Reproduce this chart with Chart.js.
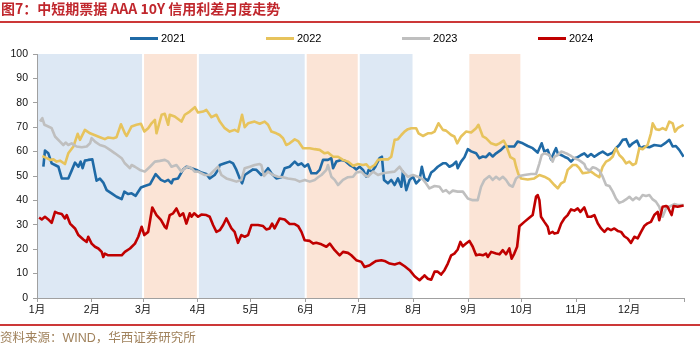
<!DOCTYPE html>
<html>
<head>
<meta charset="utf-8">
<script src="https://cdn.jsdelivr.net/npm/chart.js@4.4.0/dist/chart.umd.min.js"></script>
<style>
  body { margin: 0; background: #fff; }
  #wrap { position: relative; width: 700px; height: 346px; overflow: hidden; font-family: "Liberation Sans", "Noto Sans CJK SC", sans-serif; }
  canvas { position: absolute; left: 0; top: 0; }
  #title { position: absolute; left: 1px; top: 0; font: bold 14px "Noto Sans CJK SC", sans-serif; line-height: 16px; color: #c0272d; white-space: nowrap; }
  #topline { position: absolute; left: 0; top: 21px; width: 700px; height: 2px; background: #cc3838; }
  #bottomline { position: absolute; left: 0; top: 324px; width: 700px; height: 2px; background: #cc3838; }
  #source { position: absolute; left: 0; top: 331px; font-size: 12.5px; line-height: 14px; color: #a0825c; white-space: nowrap; }
  .item { position: absolute; top: 31px; height: 14px; display: flex; align-items: center; font-size: 11px; color: #000; white-space: nowrap; }
  .item .swatch { display: inline-block; width: 28px; height: 3px; margin-right: 3px; }
</style>
</head>
<body>
<div id="wrap">
  <canvas id="myChart" width="700" height="346"></canvas>
  <div id="title">图7：中短期票据 AAA 10Y 信用利差月度走势</div>
  <div id="topline"></div>
  <div id="legend"></div>
  <div id="bottomline"></div>
  <div id="source">资料来源：WIND，华西证券研究所</div>
</div>
<script>
// x = day of year (leap year), y = spread in bp
const monthStarts = [0, 31, 60, 91, 121, 152, 182, 213, 244, 274, 305, 335, 366];
const monthLabels = ["1月", "2月", "3月", "4月", "5月", "6月", "7月", "8月", "9月", "10月", "11月", "12月", ""];

const seriesNames = ["2021", "2022", "2023", "2024"];
const seriesColors = ["#1f6aa6", "#e7c35c", "#bfbfbf", "#c00000"];

// shaded periods
const bandFrom = [0, 60, 91, 152, 182, 244];
const bandTo = [60, 91, 152, 182, 213, 274];
const bandFill = ["#dde8f4", "#fbe4d6", "#dde8f4", "#fbe4d6", "#dde8f4", "#fbe4d6"];

const pts2021 = [
  [3.6,53.8],[4.5,60.4],[6.4,59.3],[8.3,55.2],[10.2,54.5],[12.1,53.8],[14.0,49.0],[17.7,49.0],[19.6,52.2],[21.5,55.5],
  [23.4,53.8],[24.7,55.9],[25.8,53.2],[27.1,56.3],[29.0,56.6],[31.3,56.8],[33.7,48.1],[35.6,48.9],[37.5,47.3],[39.4,44.2],
  [42.2,42.9],[45.0,41.5],[47.9,40.5],[49.4,43.6],[51.6,42.6],[53.5,42.9],[55.8,41.9],[58.8,45.3],[61.0,45.9],[63.9,46.6],
  [67.1,50.8],[70.1,48.4],[72.3,47.7],[74.2,48.4],[76.1,47.0],[77.0,48.6],[79.8,49.0],[82.7,52.7],[84.5,53.8],[87.4,53.2],
  [90.2,52.5],[93.0,51.4],[95.8,50.8],[97.7,49.0],[100.5,50.4],[102.4,52.5],[103.4,54.5],[106.2,55.2],[109.0,55.9],[110.9,55.2],
  [112.8,52.5],[114.7,49.0],[116.0,47.0],[117.5,50.4],[120.3,51.8],[122.2,52.7],[124.1,52.5],[126.9,50.4],[128.8,51.4],[130.7,53.2],
  [132.6,51.1],[135.4,49.0],[138.2,49.5],[140.1,53.2],[142.9,53.8],[145.8,55.9],[147.7,54.5],[149.6,55.2],[151.4,53.8],[153.3,54.8],
  [155.2,51.1],[158.0,51.1],[159.9,52.5],[161.8,56.6],[164.6,56.6],[166.5,57.3],[167.5,53.2],[169.3,55.9],[172.2,56.6],[174.0,56.3],
  [176.9,54.5],[178.8,53.8],[180.6,52.7],[182.5,53.8],[184.4,52.5],[186.3,49.7],[187.6,52.5],[189.5,51.8],[191.4,53.8],[193.8,57.3],
  [195.1,57.9],[196.3,48.4],[198.5,47.0],[200.4,48.4],[202.3,46.3],[204.2,49.0],[206.1,45.6],[207.0,51.8],[208.9,44.2],[210.8,48.4],
  [212.7,49.7],[214.5,47.0],[216.4,48.4],[217.7,53.8],[219.2,49.0],[221.1,48.1],[223.0,51.4],[224.9,52.5],[226.7,53.8],[229.6,55.2],
  [231.4,55.2],[233.3,53.8],[235.2,54.5],[237.1,55.9],[238.0,53.2],[239.9,55.9],[241.8,57.7],[243.7,61.0],[245.6,60.1],[248.4,59.3],
  [250.3,57.3],[252.2,58.0],[254.0,57.7],[255.9,59.3],[257.8,58.0],[259.7,59.3],[262.5,60.7],[264.4,62.1],[267.2,62.1],[270.0,62.1],
  [271.9,64.1],[274.8,63.4],[277.6,62.3],[280.4,61.4],[283.2,59.6],[285.5,63.4],[287.0,60.0],[288.9,60.7],[290.8,56.8],[292.7,60.0],
  [293.6,61.4],[294.6,59.3],[296.5,58.6],[298.3,57.9],[300.2,57.3],[302.1,55.9],[304.0,57.3],[305.9,57.7],[307.8,58.6],[309.6,59.3],
  [311.5,57.9],[313.4,59.0],[315.3,57.9],[318.1,59.3],[320.0,60.0],[322.8,58.6],[325.7,59.6],[327.5,61.4],[329.4,62.7],[331.3,64.8],
  [333.2,65.1],[335.1,62.1],[337.0,63.4],[339.4,64.5],[341.3,61.4],[343.5,62.1],[346.4,61.8],[349.2,62.7],[353.0,62.3],[355.8,63.7],
  [357.7,64.8],[359.6,62.1],[361.4,62.3],[363.3,60.7],[365.8,57.9]
];

const pts2022 = [
  [3.0,58.2],[5.5,57.3],[7.4,56.6],[9.3,56.8],[11.1,55.9],[13.0,56.3],[15.8,54.9],[17.7,59.3],[20.6,62.1],[23.0,67.3],
  [24.3,64.8],[27.1,68.9],[30.0,67.5],[32.8,66.7],[35.6,65.9],[38.4,65.1],[40.3,65.8],[43.2,65.5],[45.0,65.9],[47.5,71.2],
  [49.7,67.5],[50.7,66.4],[53.5,70.3],[56.3,71.0],[58.8,71.4],[60.7,68.2],[62.9,69.6],[64.8,71.6],[66.7,73.0],[67.6,67.5],
  [70.5,75.1],[72.3,75.5],[74.2,71.0],[75.1,75.1],[77.9,74.4],[81.7,72.3],[83.6,75.1],[86.4,76.4],[89.3,78.2],[91.1,76.0],
  [94.0,76.4],[95.8,77.1],[98.7,74.1],[101.5,75.1],[103.4,72.3],[106.2,69.6],[109.0,68.2],[111.8,68.9],[113.7,68.2],[116.0,75.1],
  [117.5,70.0],[119.4,71.6],[123.1,72.3],[126.0,71.4],[128.8,72.3],[130.7,71.0],[132.6,68.2],[135.4,67.5],[137.3,66.8],[139.2,65.5],
  [141.0,62.7],[142.9,63.4],[145.8,65.0],[147.7,64.3],[150.5,61.4],[154.3,61.4],[157.1,61.0],[159.9,60.7],[162.7,59.3],[164.6,59.6],
  [167.5,57.9],[170.3,57.9],[173.1,56.6],[175.9,55.9],[178.8,54.2],[181.6,54.9],[184.4,54.5],[186.3,54.8],[188.2,53.2],[191.0,54.5],
  [192.9,56.6],[195.1,56.8],[198.5,56.8],[200.4,57.9],[202.3,64.8],[204.2,65.1],[206.1,66.8],[207.9,68.2],[209.8,69.2],[211.7,69.6],
  [214.5,69.6],[215.8,67.5],[218.3,66.4],[221.1,67.5],[223.0,67.5],[224.9,68.2],[227.1,71.6],[229.6,68.9],[231.4,68.6],[234.3,66.8],
  [236.1,66.2],[237.7,63.4],[239.9,66.2],[242.7,68.2],[245.6,67.8],[248.4,69.6],[249.7,71.0],[252.2,66.2],[254.0,65.5],[256.9,63.4],
  [259.7,62.7],[261.6,63.4],[264.0,64.5],[265.3,62.7],[267.8,57.7],[270.0,56.8],[271.0,53.8],[272.3,50.8],[273.8,49.0],[277.6,48.6],
  [281.3,49.0],[284.2,50.4],[287.0,49.7],[289.8,48.6],[292.7,46.3],[294.6,44.9],[296.5,47.0],[298.3,47.7],[300.2,52.5],[303.1,54.5],
  [305.0,54.5],[306.8,53.2],[308.7,51.1],[311.5,51.4],[313.4,51.8],[315.3,50.8],[318.1,49.5],[320.0,53.8],[321.9,55.9],[323.8,56.6],
  [325.7,58.0],[327.5,61.4],[329.4,58.6],[331.3,57.3],[333.2,55.2],[335.1,55.9],[337.0,54.5],[338.8,55.2],[340.7,61.4],[342.6,61.0],
  [345.4,62.7],[347.3,67.5],[348.3,71.6],[350.1,69.2],[352.0,68.9],[353.9,69.6],[355.8,68.9],[357.7,72.3],[359.6,71.6],[360.9,68.2],
  [362.4,69.6],[365.8,71.0]
];

const pts2023 = [
  [1.7,72.3],[3.0,73.7],[4.2,71.0],[6.4,70.3],[8.3,69.6],[10.2,66.2],[13.0,64.1],[14.9,62.7],[16.2,63.7],[17.7,62.7],
  [19.6,63.4],[22.4,62.1],[25.3,61.8],[28.1,62.1],[30.0,63.4],[30.9,65.5],[32.8,64.1],[35.6,62.7],[38.4,62.1],[41.3,60.7],
  [44.1,59.3],[47.9,57.3],[49.7,55.2],[52.6,53.2],[53.5,54.5],[55.4,53.8],[58.2,52.5],[61.0,51.8],[63.9,53.8],[66.7,55.9],
  [69.5,56.2],[72.3,56.6],[74.2,55.9],[76.1,53.8],[78.9,54.5],[81.7,51.8],[83.6,53.2],[85.5,53.8],[87.4,53.2],[89.2,51.8],
  [91.1,51.8],[94.9,50.4],[97.7,50.4],[100.5,52.5],[102.4,53.8],[104.3,50.4],[107.1,49.0],[110.0,48.4],[112.8,47.7],[115.6,48.4],
  [117.5,53.2],[120.3,53.8],[123.1,54.5],[126.0,54.9],[126.9,54.5],[128.4,50.0],[130.7,51.8],[133.5,50.4],[136.3,49.7],[139.2,49.5],
  [142.0,49.0],[145.8,48.6],[148.6,47.7],[151.5,48.4],[154.3,47.7],[157.1,48.4],[159.0,49.5],[160.9,50.4],[163.7,52.5],[164.6,54.5],
  [166.5,49.7],[168.4,48.4],[170.3,46.3],[173.1,48.4],[175.9,49.5],[178.8,49.7],[180.6,51.4],[183.5,51.8],[185.3,50.4],[187.2,49.7],
  [190.1,51.8],[192.9,50.4],[195.7,51.1],[198.5,51.4],[202.3,51.8],[205.1,53.8],[207.0,51.8],[209.8,49.7],[212.7,50.4],[215.5,49.7],
  [218.3,48.6],[220.0,47.0],[222.0,44.9],[224.9,45.9],[227.7,45.6],[229.6,43.6],[231.4,44.2],[233.3,42.9],[235.2,44.0],[238.0,43.6],
  [240.9,43.6],[243.7,40.8],[246.5,40.1],[249.3,40.1],[251.2,45.6],[253.1,48.4],[255.9,50.0],[257.8,48.4],[259.7,49.7],[261.6,48.6],
  [263.5,49.7],[265.3,48.4],[267.2,46.3],[269.1,45.6],[271.0,49.0],[272.9,50.0],[275.7,50.4],[279.5,50.8],[282.3,50.8],[284.2,55.2],
  [285.5,58.6],[287.0,59.3],[289.8,58.6],[291.7,55.9],[292.7,57.9],[294.6,58.6],[296.5,60.0],[298.3,59.6],[300.2,59.0],[302.1,58.2],
  [304.0,57.3],[305.9,56.8],[307.8,55.9],[309.6,54.9],[310.6,53.2],[312.5,52.2],[314.4,53.6],[316.2,53.2],[318.1,52.2],[320.0,49.7],
  [321.9,46.3],[323.8,45.9],[325.7,43.6],[327.5,40.8],[329.4,39.0],[331.3,39.5],[333.2,40.4],[335.1,41.5],[337.0,40.1],[338.8,41.2],
  [340.7,40.4],[342.6,42.2],[344.5,41.8],[346.4,42.2],[348.3,40.4],[350.1,39.5],[352.0,37.4],[353.9,33.3],[355.8,36.7],[357.7,37.4],
  [360.5,38.5],[362.4,38.1],[365.8,38.1]
];

const pts2024 = [
  [1.2,33.0],[2.7,32.2],[4.5,33.3],[6.4,32.2],[8.3,30.8],[10.2,35.3],[12.1,34.7],[14.0,34.4],[15.8,32.6],[16.8,34.0],
  [18.7,30.5],[21.5,28.5],[23.4,25.8],[26.2,24.0],[28.1,23.0],[29.0,25.1],[30.9,22.3],[32.8,21.0],[34.7,20.3],[36.6,18.9],
  [37.5,16.8],[38.4,18.2],[40.3,17.5],[47.9,17.5],[49.7,18.9],[52.6,20.3],[55.4,22.3],[57.3,25.1],[59.2,29.2],[60.7,25.8],
  [62.9,27.1],[65.2,37.1],[67.6,34.0],[70.1,32.0],[72.3,29.2],[73.2,28.5],[75.1,34.0],[77.0,34.7],[78.9,36.7],[80.8,33.6],
  [82.7,34.7],[84.5,30.5],[86.4,34.7],[87.4,33.3],[88.9,34.7],[91.1,33.3],[93.0,34.2],[95.8,34.0],[97.7,33.3],[99.6,29.9],
  [101.5,27.1],[103.4,27.8],[105.3,29.9],[107.1,32.6],[108.1,31.2],[110.0,28.5],[111.8,27.1],[113.7,22.6],[115.6,25.8],[117.5,25.1],
  [119.4,25.8],[121.3,29.9],[125.0,29.9],[127.9,29.5],[129.7,28.1],[131.6,28.5],[133.0,30.5],[134.4,28.5],[137.3,32.6],[140.1,32.2],
  [142.9,30.3],[145.8,30.3],[147.7,29.5],[149.6,27.1],[151.4,23.7],[154.3,23.4],[156.2,22.3],[158.0,22.6],[160.9,22.0],[163.7,21.0],
  [165.6,22.3],[168.4,19.6],[171.2,17.5],[173.1,18.9],[175.9,18.5],[177.8,17.5],[180.6,15.5],[183.5,14.8],[185.3,12.7],[188.2,13.4],
  [190.1,14.4],[191.9,15.2],[194.8,15.5],[196.6,15.2],[199.5,14.1],[202.3,13.7],[205.1,14.4],[208.0,13.0],[210.8,11.4],[213.6,8.9],
  [216.4,7.3],[218.3,8.6],[219.2,9.3],[221.1,7.9],[223.0,7.5],[224.9,10.8],[226.7,10.8],[228.6,9.6],[230.5,11.4],[232.4,14.1],
  [234.3,17.5],[236.1,18.2],[238.0,19.9],[239.5,23.0],[240.9,21.2],[242.7,22.3],[244.6,23.4],[246.5,21.0],[248.4,17.5],[250.3,17.8],
  [252.2,17.5],[254.0,18.2],[255.0,16.8],[256.9,18.9],[259.7,18.2],[261.6,17.9],[263.5,19.6],[265.3,17.9],[267.2,20.3],[268.5,16.1],
  [270.0,18.2],[271.6,21.0],[272.9,29.4],[275.7,31.2],[278.5,32.9],[280.4,34.0],[282.3,41.5],[283.2,42.2],[284.2,40.1],[285.1,33.3],
  [287.0,31.2],[288.9,29.2],[289.8,26.4],[291.7,27.1],[292.7,26.4],[294.6,26.7],[296.5,30.5],[298.3,32.6],[300.2,34.0],[302.1,36.3],
  [304.0,35.8],[305.9,36.7],[307.4,35.3],[309.6,37.1],[311.5,33.3],[313.4,33.3],[315.3,34.0],[317.2,30.6],[319.1,28.5],[321.0,27.1],
  [322.8,28.5],[324.7,27.8],[326.6,28.5],[328.5,27.5],[330.4,27.1],[332.2,25.3],[334.1,24.4],[336.0,22.6],[337.9,25.1],[339.8,24.4],
  [341.7,27.1],[343.5,29.5],[345.4,30.6],[347.3,31.2],[349.2,34.0],[351.1,35.3],[352.0,31.9],[353.9,37.4],[355.8,37.7],[356.7,37.4],
  [359.0,34.0],[360.1,37.7],[362.4,37.4],[365.8,37.9]
];

const allSeries = [pts2021, pts2022, pts2023, pts2024];

const tickFont = { family: "'Liberation Sans', 'Noto Sans CJK SC', sans-serif", size: 10.5 };
const axisGrey = "#a0a0a0";

const bandsPlugin = {
  id: "bands",
  beforeDraw(chart) {
    const { ctx, scales } = chart;
    const top = scales.y.getPixelForValue(100);
    const bottom = scales.y.getPixelForValue(0);
    ctx.save();
    bandFrom.forEach((from, i) => {
      const x0 = scales.x.getPixelForValue(from);
      const x1 = scales.x.getPixelForValue(bandTo[i]);
      ctx.fillStyle = bandFill[i];
      ctx.fillRect(x0 + 1, top, x1 - x0 - 2, bottom - top);
    });
    ctx.restore();
  },
};

const datasets = allSeries.map((pts, i) => ({
  label: seriesNames[i],
  data: pts.map((p) => ({ x: p[0], y: p[1] })),
  borderColor: seriesColors[i],
  backgroundColor: seriesColors[i],
  borderWidth: 2.6,
  borderJoinStyle: "round",
  pointRadius: 0,
  tension: 0,
  order: 4 - i,
}));

const chart = new Chart(document.getElementById("myChart"), {
  type: "line",
  data: { datasets: datasets },
  plugins: [bandsPlugin],
  options: {
    responsive: false,
    animation: false,
    events: [],
    layout: { padding: { top: 54, right: 16, bottom: 28, left: 0 } },
    plugins: { legend: { display: false }, tooltip: { enabled: false } },
    scales: {
      x: {
        type: "linear",
        min: 0,
        max: 366,
        afterBuildTicks: (scale) => {
          scale.ticks = monthStarts.map((v) => ({ value: v }));
        },
        afterFit: (scale) => {
          scale.height = 20;
        },
        ticks: {
          autoSkip: false,
          maxRotation: 0,
          padding: 2,
          color: "#111",
          font: tickFont,
          callback: (value, index) => monthLabels[index],
        },
        grid: { drawOnChartArea: false, drawTicks: true, tickLength: 4, color: axisGrey },
        border: { color: axisGrey, width: 1 },
      },
      y: {
        min: 0,
        max: 100,
        afterFit: (scale) => {
          scale.width = 37;
        },
        ticks: { stepSize: 10, padding: 5, color: "#111", font: tickFont },
        grid: { drawOnChartArea: false, drawTicks: true, tickLength: 4, color: axisGrey },
        border: { color: axisGrey, width: 1 },
      },
    },
  },
});

// legend spread across the top like the original
const legendBox = document.getElementById("legend");
chart.data.datasets.forEach((ds, i) => {
  const item = document.createElement("div");
  item.className = "item";
  item.style.left = 130 + i * 136 + "px";
  item.innerHTML = '<span class="swatch" style="background:' + ds.borderColor + '"></span>' + ds.label;
  legendBox.appendChild(item);
});
</script>
</body>
</html>
